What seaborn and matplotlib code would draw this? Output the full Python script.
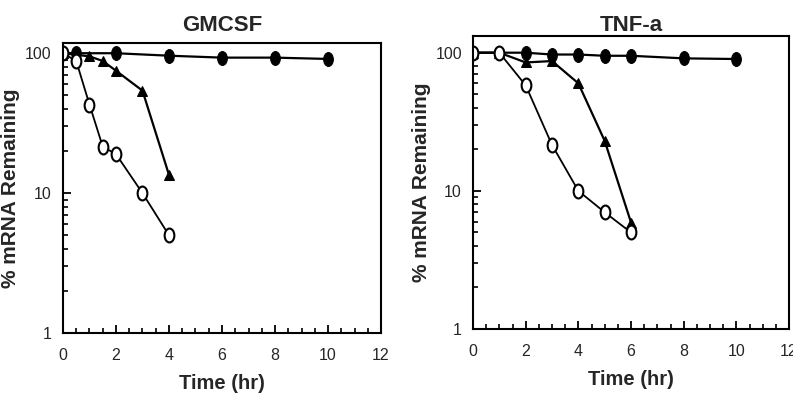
import matplotlib
matplotlib.use("Agg")
import matplotlib.pyplot as plt
import matplotlib.ticker as mticker
from matplotlib.path import Path
from matplotlib.transforms import Affine2D
import seaborn as sns

# GMCSF panel
gm_filled_t = [0, 0.5, 2, 4, 6, 8, 10]
gm_filled_v = [100, 100, 100, 96, 93, 93, 91]
gm_tri_t = [0, 1, 1.5, 2, 3, 4]
gm_tri_v = [100, 95, 88, 75, 54, 13.5]
gm_open_t = [0, 0.5, 1, 1.5, 2, 3, 4]
gm_open_v = [100, 88, 43, 21.5, 19, 10, 5.0]

# TNF-a panel
tnf_filled_t = [0, 1, 2, 3, 4, 5, 6, 8, 10]
tnf_filled_v = [100, 100, 100, 97, 97, 95, 95, 91, 90]
tnf_tri_t = [0, 1, 2, 3, 4, 5, 6]
tnf_tri_v = [100, 100, 85, 87, 60, 23, 5.9]
tnf_open_t = [0, 1, 2, 3, 4, 5, 6]
tnf_open_v = [100, 100, 58, 21.5, 10, 7.0, 5.0]

titles = ["GMCSF", "TNF-a"]

sns.set_theme(style="ticks")
plt.rcParams["font.family"] = ["Liberation Sans", "DejaVu Sans"]

# tall oval marker like the scanned figure
oval = Path.unit_circle().transformed(Affine2D().scale(0.7, 1.0))

fig = plt.figure(figsize=(7.93, 3.96), dpi=100)
ax1 = fig.add_axes([0.0794, 0.159, 0.4011, 0.732])
ax2 = fig.add_axes([0.5965, 0.169, 0.3985, 0.740])

panels = [
    (ax1, gm_filled_t, gm_filled_v, gm_tri_t, gm_tri_v, gm_open_t, gm_open_v, 118, 9, -0.135),
    (ax2, tnf_filled_t, tnf_filled_v, tnf_tri_t, tnf_tri_v, tnf_open_t, tnf_open_v, 132, 3, -0.133),
]

for i, (ax, ft, fv, tt, tv, ot, ov, ytop, tpad, ylx) in enumerate(panels):
    ax.set_yscale("log")
    sns.lineplot(x=ft, y=fv, ax=ax, color="black", lw=1.6, marker=oval,
                 markersize=10, markerfacecolor="black", markeredgecolor="black")
    sns.lineplot(x=tt, y=tv, ax=ax, color="black", lw=1.6, marker="^",
                 markersize=7, markerfacecolor="black", markeredgecolor="black")
    sns.lineplot(x=ot, y=ov, ax=ax, color="black", lw=1.3, marker=oval,
                 markersize=10, markerfacecolor="white", markeredgecolor="black",
                 markeredgewidth=1.5)
    ax.set_xlim(0, 12)
    ax.set_ylim(1, ytop)
    ax.xaxis.set_major_locator(mticker.MultipleLocator(2))
    ax.xaxis.set_minor_locator(mticker.MultipleLocator(0.5))
    ax.yaxis.set_major_locator(mticker.FixedLocator([1, 10, 100]))
    ax.yaxis.set_major_formatter(mticker.FixedFormatter(["1", "10", "100"]))
    ax.yaxis.set_minor_locator(mticker.LogLocator(base=10, subs=range(2, 10)))
    ax.yaxis.set_minor_formatter(mticker.NullFormatter())
    ax.tick_params(which="both", direction="in", color="black", labelsize=11.5)
    ax.tick_params(which="major", length=6, width=1.3)
    ax.tick_params(which="minor", length=3.5, width=1.2)
    ax.tick_params(axis="x", which="major", pad=11)
    ax.tick_params(axis="y", which="major", pad=8)
    for sp in ax.spines.values():
        sp.set_visible(True)
        sp.set_linewidth(1.5)
        sp.set_color("black")
    ax.set_title(titles[i], fontsize=16, fontweight="bold", pad=tpad)
    ax.set_xlabel("Time (hr)", fontsize=14.5, fontweight="bold", labelpad=8)
    ax.set_ylabel("% mRNA Remaining", fontsize=15, fontweight="bold")
    ax.yaxis.set_label_coords(ylx, 0.5)

fig.savefig("out.png", dpi=100)
